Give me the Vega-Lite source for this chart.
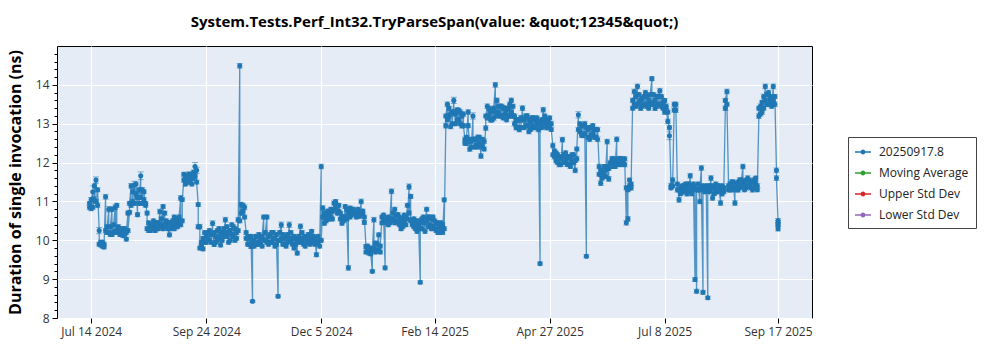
{
"$schema": "https://vega.github.io/schema/vega-lite/v6.json",
"width": 755, "height": 272,
"autosize": {"type": "none"},
"padding": {"left": 57, "top": 46, "right": 188, "bottom": 32},
"background": "white",
"title": {"text": "System.Tests.Perf_Int32.TryParseSpan(value: &quot;12345&quot;)", "fontSize": 15, "fontWeight": "bold", "font": "Open Sans", "color": "#000", "anchor": "middle", "offset": 16},
"datasets": {
"main": [
{"d":"2024-07-13","v":10.85,"e":0.06},{"d":"2024-07-14","v":10.82,"e":0.06},{"d":"2024-07-15","v":11.25,"e":0.15},{"d":"2024-07-16","v":11.05,"e":0.08},{"d":"2024-07-17","v":11.55,"e":0.08},{"d":"2024-07-18","v":10.9,"e":0.06},{"d":"2024-07-19","v":10.25,"e":0.08},{"d":"2024-07-20","v":9.95,"e":0.05},{"d":"2024-07-21","v":9.85,"e":0.05},{"d":"2024-07-22","v":9.9,"e":0.05},{"d":"2024-07-23","v":11.12,"e":0.06},{"d":"2024-07-24","v":10.2,"e":0.05},{"d":"2024-07-25","v":10.8,"e":0.07},{"d":"2024-07-26","v":10.15,"e":0.05},{"d":"2024-07-27","v":10.8,"e":0.06},{"d":"2024-07-28","v":10.22,"e":0.05},{"d":"2024-07-29","v":10.85,"e":0.06},{"d":"2024-07-30","v":10.9,"e":0.05},{"d":"2024-07-31","v":10.2,"e":0.05},
{"d":"2024-08-01","v":10.25,"e":0.05},{"d":"2024-08-02","v":10.15,"e":0.05},{"d":"2024-08-03","v":10.22,"e":0.05},{"d":"2024-08-04","v":10.18,"e":0.05},{"d":"2024-08-05","v":10.03,"e":0.05},{"d":"2024-08-06","v":10.7,"e":0.05},{"d":"2024-08-07","v":10.72,"e":0.05},{"d":"2024-08-08","v":11.4,"e":0.06},{"d":"2024-08-09","v":11.0,"e":0.06},{"d":"2024-08-10","v":11.42,"e":0.1},{"d":"2024-08-11","v":11.2,"e":0.06},{"d":"2024-08-12","v":10.66,"e":0.05},{"d":"2024-08-13","v":11.3,"e":0.06},{"d":"2024-08-14","v":11.66,"e":0.1},{"d":"2024-08-15","v":11.3,"e":0.06},{"d":"2024-08-16","v":11.04,"e":0.06},{"d":"2024-08-17","v":10.9,"e":0.05},{"d":"2024-08-18","v":10.7,"e":0.05},{"d":"2024-08-19","v":10.25,"e":0.05},{"d":"2024-08-20","v":10.35,"e":0.05},{"d":"2024-08-21","v":10.4,"e":0.05},{"d":"2024-08-22","v":10.3,"e":0.05},{"d":"2024-08-23","v":10.42,"e":0.05},{"d":"2024-08-24","v":10.3,"e":0.05},{"d":"2024-08-25","v":10.45,"e":0.05},{"d":"2024-08-26","v":10.74,"e":0.06},{"d":"2024-08-27","v":10.4,"e":0.05},{"d":"2024-08-28","v":10.87,"e":0.05},{"d":"2024-08-29","v":10.7,"e":0.05},{"d":"2024-08-30","v":10.35,"e":0.05},{"d":"2024-08-31","v":10.45,"e":0.05},
{"d":"2024-09-01","v":10.14,"e":0.05},{"d":"2024-09-02","v":10.4,"e":0.05},{"d":"2024-09-03","v":10.5,"e":0.05},{"d":"2024-09-04","v":10.6,"e":0.05},{"d":"2024-09-05","v":10.4,"e":0.05},{"d":"2024-09-06","v":10.5,"e":0.05},{"d":"2024-09-07","v":10.45,"e":0.05},{"d":"2024-09-08","v":11.09,"e":0.06},{"d":"2024-09-09","v":10.5,"e":0.05},{"d":"2024-09-10","v":11.55,"e":0.06},{"d":"2024-09-11","v":11.65,"e":0.06},{"d":"2024-09-12","v":11.5,"e":0.06},{"d":"2024-09-13","v":11.7,"e":0.06},{"d":"2024-09-14","v":11.55,"e":0.06},{"d":"2024-09-15","v":11.6,"e":0.06},{"d":"2024-09-16","v":11.75,"e":0.06},{"d":"2024-09-17","v":11.9,"e":0.1},{"d":"2024-09-18","v":11.8,"e":0.08},{"d":"2024-09-19","v":10.92,"e":0.05},{"d":"2024-09-20","v":10.35,"e":0.06},{"d":"2024-09-21","v":9.85,"e":0.05},{"d":"2024-09-22","v":9.78,"e":0.05},{"d":"2024-09-23","v":9.95,"e":0.05},{"d":"2024-09-24","v":10.1,"e":0.05},{"d":"2024-09-25","v":10.2,"e":0.05},{"d":"2024-09-26","v":10.0,"e":0.05},{"d":"2024-09-27","v":10.15,"e":0.05},{"d":"2024-09-28","v":10.44,"e":0.06},{"d":"2024-09-29","v":9.89,"e":0.05},{"d":"2024-09-30","v":10.1,"e":0.05},
{"d":"2024-10-01","v":10.25,"e":0.05},{"d":"2024-10-02","v":10.05,"e":0.05},{"d":"2024-10-03","v":9.88,"e":0.05},{"d":"2024-10-04","v":10.2,"e":0.05},{"d":"2024-10-05","v":10.3,"e":0.05},{"d":"2024-10-06","v":10.53,"e":0.06},{"d":"2024-10-07","v":10.1,"e":0.05},{"d":"2024-10-08","v":9.95,"e":0.05},{"d":"2024-10-09","v":10.25,"e":0.05},{"d":"2024-10-10","v":10.15,"e":0.05},{"d":"2024-10-11","v":10.35,"e":0.05},{"d":"2024-10-12","v":10.0,"e":0.05},{"d":"2024-10-13","v":10.2,"e":0.05},{"d":"2024-10-14","v":10.53,"e":0.06},{"d":"2024-10-15","v":14.49,"e":0.06},{"d":"2024-10-16","v":10.92,"e":0.06},{"d":"2024-10-17","v":10.75,"e":0.05},{"d":"2024-10-18","v":10.85,"e":0.06},{"d":"2024-10-19","v":10.2,"e":0.05},{"d":"2024-10-20","v":9.9,"e":0.05},{"d":"2024-10-21","v":10.05,"e":0.05},{"d":"2024-10-22","v":9.84,"e":0.05},{"d":"2024-10-23","v":8.43,"e":0.03},{"d":"2024-10-24","v":10.0,"e":0.05},{"d":"2024-10-25","v":9.9,"e":0.05},{"d":"2024-10-26","v":10.1,"e":0.05},{"d":"2024-10-27","v":9.95,"e":0.05},{"d":"2024-10-28","v":10.05,"e":0.05},{"d":"2024-10-29","v":9.85,"e":0.05},{"d":"2024-10-30","v":10.6,"e":0.05},{"d":"2024-10-31","v":10.0,"e":0.05},
{"d":"2024-11-01","v":10.6,"e":0.05},{"d":"2024-11-02","v":10.1,"e":0.05},{"d":"2024-11-03","v":9.95,"e":0.05},{"d":"2024-11-04","v":10.2,"e":0.05},{"d":"2024-11-05","v":10.05,"e":0.05},{"d":"2024-11-06","v":9.85,"e":0.05},{"d":"2024-11-07","v":10.15,"e":0.05},{"d":"2024-11-08","v":8.56,"e":0.04},{"d":"2024-11-09","v":10.0,"e":0.05},{"d":"2024-11-10","v":10.4,"e":0.07},{"d":"2024-11-11","v":9.9,"e":0.05},{"d":"2024-11-12","v":10.05,"e":0.05},{"d":"2024-11-13","v":9.85,"e":0.05},{"d":"2024-11-14","v":10.15,"e":0.05},{"d":"2024-11-15","v":10.4,"e":0.07},{"d":"2024-11-16","v":10.0,"e":0.05},{"d":"2024-11-17","v":9.9,"e":0.05},{"d":"2024-11-18","v":9.8,"e":0.05},{"d":"2024-11-19","v":10.05,"e":0.05},{"d":"2024-11-20","v":9.67,"e":0.05},{"d":"2024-11-21","v":10.1,"e":0.05},{"d":"2024-11-22","v":10.36,"e":0.06},{"d":"2024-11-23","v":9.95,"e":0.05},{"d":"2024-11-24","v":10.05,"e":0.05},{"d":"2024-11-25","v":9.85,"e":0.05},{"d":"2024-11-26","v":10.1,"e":0.05},{"d":"2024-11-27","v":10.0,"e":0.05},{"d":"2024-11-28","v":9.9,"e":0.05},{"d":"2024-11-29","v":10.23,"e":0.05},{"d":"2024-11-30","v":9.95,"e":0.05},
{"d":"2024-12-01","v":9.9,"e":0.05},{"d":"2024-12-02","v":9.63,"e":0.05},{"d":"2024-12-03","v":9.93,"e":0.05},{"d":"2024-12-04","v":10.0,"e":0.05},{"d":"2024-12-05","v":11.9,"e":0.06},{"d":"2024-12-06","v":10.83,"e":0.06},{"d":"2024-12-07","v":10.44,"e":0.05},{"d":"2024-12-08","v":10.65,"e":0.05},{"d":"2024-12-09","v":10.55,"e":0.05},{"d":"2024-12-10","v":10.7,"e":0.05},{"d":"2024-12-11","v":10.6,"e":0.05},{"d":"2024-12-12","v":10.75,"e":0.05},{"d":"2024-12-13","v":10.96,"e":0.05},{"d":"2024-12-14","v":11.0,"e":0.05},{"d":"2024-12-15","v":10.9,"e":0.05},{"d":"2024-12-16","v":10.75,"e":0.05},{"d":"2024-12-17","v":10.55,"e":0.05},{"d":"2024-12-18","v":10.44,"e":0.05},{"d":"2024-12-19","v":10.6,"e":0.05},{"d":"2024-12-20","v":10.87,"e":0.05},{"d":"2024-12-21","v":10.8,"e":0.05},{"d":"2024-12-22","v":9.29,"e":0.06},{"d":"2024-12-23","v":10.83,"e":0.05},{"d":"2024-12-24","v":10.8,"e":0.05},{"d":"2024-12-25","v":10.72,"e":0.05},{"d":"2024-12-26","v":10.68,"e":0.05},{"d":"2024-12-27","v":10.7,"e":0.05},{"d":"2024-12-28","v":10.66,"e":0.05},{"d":"2024-12-29","v":10.7,"e":0.05},{"d":"2024-12-30","v":11.0,"e":0.06},{"d":"2024-12-31","v":10.66,"e":0.05},
{"d":"2025-01-01","v":10.46,"e":0.05},{"d":"2025-01-02","v":9.84,"e":0.05},{"d":"2025-01-03","v":9.72,"e":0.05},{"d":"2025-01-04","v":9.67,"e":0.05},{"d":"2025-01-05","v":9.8,"e":0.05},{"d":"2025-01-06","v":9.2,"e":0.04},{"d":"2025-01-07","v":10.53,"e":0.06},{"d":"2025-01-08","v":9.93,"e":0.05},{"d":"2025-01-09","v":9.75,"e":0.05},{"d":"2025-01-10","v":10.14,"e":0.05},{"d":"2025-01-11","v":9.7,"e":0.05},{"d":"2025-01-12","v":10.6,"e":0.05},{"d":"2025-01-13","v":10.5,"e":0.05},{"d":"2025-01-14","v":9.29,"e":0.05},{"d":"2025-01-15","v":10.57,"e":0.05},{"d":"2025-01-16","v":10.4,"e":0.05},{"d":"2025-01-17","v":10.45,"e":0.05},{"d":"2025-01-18","v":11.26,"e":0.06},{"d":"2025-01-19","v":10.55,"e":0.05},{"d":"2025-01-20","v":10.8,"e":0.05},{"d":"2025-01-21","v":10.5,"e":0.05},{"d":"2025-01-22","v":10.66,"e":0.05},{"d":"2025-01-23","v":10.4,"e":0.05},{"d":"2025-01-24","v":10.3,"e":0.05},{"d":"2025-01-25","v":10.55,"e":0.05},{"d":"2025-01-26","v":10.45,"e":0.05},{"d":"2025-01-27","v":10.6,"e":0.05},{"d":"2025-01-28","v":10.9,"e":0.05},{"d":"2025-01-29","v":11.38,"e":0.07},{"d":"2025-01-30","v":11.13,"e":0.05},{"d":"2025-01-31","v":10.53,"e":0.05},
{"d":"2025-02-01","v":10.35,"e":0.05},{"d":"2025-02-02","v":10.45,"e":0.05},{"d":"2025-02-03","v":10.23,"e":0.05},{"d":"2025-02-04","v":10.4,"e":0.05},{"d":"2025-02-05","v":8.92,"e":0.04},{"d":"2025-02-06","v":10.55,"e":0.05},{"d":"2025-02-07","v":10.45,"e":0.05},{"d":"2025-02-08","v":10.23,"e":0.05},{"d":"2025-02-09","v":10.8,"e":0.05},{"d":"2025-02-10","v":10.6,"e":0.05},{"d":"2025-02-11","v":10.4,"e":0.05},{"d":"2025-02-12","v":10.55,"e":0.05},{"d":"2025-02-13","v":10.36,"e":0.05},{"d":"2025-02-14","v":10.5,"e":0.05},{"d":"2025-02-15","v":10.44,"e":0.05},{"d":"2025-02-16","v":10.2,"e":0.05},{"d":"2025-02-17","v":10.35,"e":0.05},{"d":"2025-02-18","v":10.25,"e":0.05},{"d":"2025-02-19","v":10.4,"e":0.05},{"d":"2025-02-20","v":11.04,"e":0.05},{"d":"2025-02-21","v":12.95,"e":0.06},{"d":"2025-02-22","v":13.5,"e":0.06},{"d":"2025-02-23","v":13.2,"e":0.06},{"d":"2025-02-24","v":12.93,"e":0.06},{"d":"2025-02-25","v":13.3,"e":0.06},{"d":"2025-02-26","v":13.6,"e":0.08},{"d":"2025-02-27","v":13.25,"e":0.06},{"d":"2025-02-28","v":13.35,"e":0.06},
{"d":"2025-03-01","v":13.1,"e":0.06},{"d":"2025-03-02","v":13.3,"e":0.06},{"d":"2025-03-03","v":12.95,"e":0.06},{"d":"2025-03-04","v":13.25,"e":0.06},{"d":"2025-03-05","v":12.6,"e":0.06},{"d":"2025-03-06","v":12.5,"e":0.06},{"d":"2025-03-07","v":13.3,"e":0.06},{"d":"2025-03-08","v":12.35,"e":0.06},{"d":"2025-03-09","v":12.55,"e":0.06},{"d":"2025-03-10","v":13.2,"e":0.08},{"d":"2025-03-11","v":12.6,"e":0.06},{"d":"2025-03-12","v":12.45,"e":0.06},{"d":"2025-03-13","v":12.65,"e":0.06},{"d":"2025-03-14","v":12.5,"e":0.06},{"d":"2025-03-15","v":12.17,"e":0.06},{"d":"2025-03-16","v":12.4,"e":0.06},{"d":"2025-03-17","v":12.55,"e":0.06},{"d":"2025-03-18","v":12.89,"e":0.06},{"d":"2025-03-19","v":13.45,"e":0.06},{"d":"2025-03-20","v":13.2,"e":0.06},{"d":"2025-03-21","v":13.1,"e":0.06},{"d":"2025-03-22","v":13.35,"e":0.06},{"d":"2025-03-23","v":13.15,"e":0.06},{"d":"2025-03-24","v":14.0,"e":0.06},{"d":"2025-03-25","v":13.6,"e":0.06},{"d":"2025-03-26","v":13.3,"e":0.06},{"d":"2025-03-27","v":13.45,"e":0.06},{"d":"2025-03-28","v":13.2,"e":0.06},{"d":"2025-03-29","v":13.4,"e":0.06},{"d":"2025-03-30","v":13.25,"e":0.06},{"d":"2025-03-31","v":13.35,"e":0.06},
{"d":"2025-04-01","v":13.2,"e":0.06},{"d":"2025-04-02","v":13.5,"e":0.06},{"d":"2025-04-03","v":13.6,"e":0.06},{"d":"2025-04-04","v":13.2,"e":0.06},{"d":"2025-04-05","v":13.0,"e":0.06},{"d":"2025-04-06","v":12.9,"e":0.06},{"d":"2025-04-07","v":13.1,"e":0.06},{"d":"2025-04-08","v":12.85,"e":0.06},{"d":"2025-04-09","v":13.15,"e":0.06},{"d":"2025-04-10","v":13.4,"e":0.06},{"d":"2025-04-11","v":13.1,"e":0.06},{"d":"2025-04-12","v":12.95,"e":0.06},{"d":"2025-04-13","v":13.2,"e":0.06},{"d":"2025-04-14","v":12.8,"e":0.06},{"d":"2025-04-15","v":13.05,"e":0.06},{"d":"2025-04-16","v":13.15,"e":0.06},{"d":"2025-04-17","v":12.9,"e":0.06},{"d":"2025-04-18","v":13.1,"e":0.06},{"d":"2025-04-19","v":13.0,"e":0.06},{"d":"2025-04-20","v":12.85,"e":0.06},{"d":"2025-04-21","v":9.4,"e":0.04},{"d":"2025-04-22","v":13.1,"e":0.06},{"d":"2025-04-23","v":13.36,"e":0.06},{"d":"2025-04-24","v":13.0,"e":0.06},{"d":"2025-04-25","v":12.9,"e":0.06},{"d":"2025-04-26","v":13.05,"e":0.06},{"d":"2025-04-27","v":12.95,"e":0.06},{"d":"2025-04-28","v":13.0,"e":0.06},{"d":"2025-04-29","v":12.44,"e":0.06},{"d":"2025-04-30","v":12.15,"e":0.06},
{"d":"2025-05-01","v":12.05,"e":0.06},{"d":"2025-05-02","v":12.2,"e":0.06},{"d":"2025-05-03","v":11.95,"e":0.06},{"d":"2025-05-04","v":12.1,"e":0.06},{"d":"2025-05-05","v":12.59,"e":0.06},{"d":"2025-05-06","v":12.2,"e":0.06},{"d":"2025-05-07","v":12.05,"e":0.06},{"d":"2025-05-08","v":12.15,"e":0.06},{"d":"2025-05-09","v":11.95,"e":0.06},{"d":"2025-05-10","v":12.1,"e":0.06},{"d":"2025-05-11","v":12.0,"e":0.06},{"d":"2025-05-12","v":12.2,"e":0.06},{"d":"2025-05-13","v":11.8,"e":0.06},{"d":"2025-05-14","v":12.1,"e":0.06},{"d":"2025-05-15","v":13.23,"e":0.08},{"d":"2025-05-16","v":12.8,"e":0.06},{"d":"2025-05-17","v":12.95,"e":0.06},{"d":"2025-05-18","v":12.7,"e":0.06},{"d":"2025-05-19","v":13.0,"e":0.06},{"d":"2025-05-20","v":9.59,"e":0.04},{"d":"2025-05-21","v":12.85,"e":0.06},{"d":"2025-05-22","v":12.6,"e":0.06},{"d":"2025-05-23","v":12.9,"e":0.06},{"d":"2025-05-24","v":12.75,"e":0.06},{"d":"2025-05-25","v":12.65,"e":0.06},{"d":"2025-05-26","v":12.85,"e":0.06},{"d":"2025-05-27","v":12.6,"e":0.06},{"d":"2025-05-28","v":11.9,"e":0.06},{"d":"2025-05-29","v":11.47,"e":0.06},{"d":"2025-05-30","v":11.75,"e":0.06},{"d":"2025-05-31","v":11.65,"e":0.06},
{"d":"2025-06-01","v":11.8,"e":0.06},{"d":"2025-06-02","v":12.54,"e":0.06},{"d":"2025-06-03","v":11.58,"e":0.06},{"d":"2025-06-04","v":12.0,"e":0.06},{"d":"2025-06-05","v":12.1,"e":0.06},{"d":"2025-06-06","v":11.95,"e":0.06},{"d":"2025-06-07","v":12.05,"e":0.06},{"d":"2025-06-08","v":12.6,"e":0.06},{"d":"2025-06-09","v":11.95,"e":0.06},{"d":"2025-06-10","v":12.1,"e":0.06},{"d":"2025-06-11","v":12.0,"e":0.06},{"d":"2025-06-12","v":12.05,"e":0.06},{"d":"2025-06-13","v":11.95,"e":0.06},{"d":"2025-06-14","v":10.45,"e":0.06},{"d":"2025-06-15","v":10.55,"e":0.06},{"d":"2025-06-16","v":11.4,"e":0.06},{"d":"2025-06-17","v":11.35,"e":0.06},{"d":"2025-06-18","v":13.6,"e":0.06},{"d":"2025-06-19","v":13.83,"e":0.06},{"d":"2025-06-20","v":13.45,"e":0.06},{"d":"2025-06-21","v":13.96,"e":0.06},{"d":"2025-06-22","v":13.55,"e":0.06},{"d":"2025-06-23","v":13.4,"e":0.06},{"d":"2025-06-24","v":13.65,"e":0.06},{"d":"2025-06-25","v":13.5,"e":0.06},{"d":"2025-06-26","v":13.8,"e":0.06},{"d":"2025-06-27","v":13.45,"e":0.06},{"d":"2025-06-28","v":13.6,"e":0.06},{"d":"2025-06-29","v":13.5,"e":0.06},{"d":"2025-06-30","v":14.16,"e":0.05},
{"d":"2025-07-01","v":13.55,"e":0.06},{"d":"2025-07-02","v":13.4,"e":0.06},{"d":"2025-07-03","v":13.7,"e":0.06},{"d":"2025-07-04","v":13.5,"e":0.06},{"d":"2025-07-05","v":13.85,"e":0.06},{"d":"2025-07-06","v":13.45,"e":0.06},{"d":"2025-07-07","v":13.55,"e":0.06},{"d":"2025-07-08","v":13.3,"e":0.06},{"d":"2025-07-09","v":13.45,"e":0.06},{"d":"2025-07-10","v":13.06,"e":0.06},{"d":"2025-07-11","v":12.69,"e":0.1},{"d":"2025-07-12","v":11.4,"e":0.06},{"d":"2025-07-13","v":11.55,"e":0.06},{"d":"2025-07-14","v":13.5,"e":0.06},{"d":"2025-07-15","v":13.35,"e":0.06},{"d":"2025-07-16","v":11.3,"e":0.06},{"d":"2025-07-17","v":11.04,"e":0.06},{"d":"2025-07-18","v":11.35,"e":0.06},{"d":"2025-07-19","v":11.25,"e":0.06},{"d":"2025-07-20","v":11.4,"e":0.06},{"d":"2025-07-21","v":11.3,"e":0.06},{"d":"2025-07-22","v":11.2,"e":0.06},{"d":"2025-07-23","v":11.45,"e":0.06},{"d":"2025-07-24","v":11.66,"e":0.06},{"d":"2025-07-25","v":11.3,"e":0.06},{"d":"2025-07-26","v":11.35,"e":0.06},{"d":"2025-07-27","v":8.99,"e":0.05},{"d":"2025-07-28","v":8.69,"e":0.05},{"d":"2025-07-29","v":11.3,"e":0.06},{"d":"2025-07-30","v":11.0,"e":0.06},{"d":"2025-07-31","v":11.86,"e":0.06},
{"d":"2025-08-01","v":8.66,"e":0.05},{"d":"2025-08-02","v":11.35,"e":0.06},{"d":"2025-08-03","v":11.3,"e":0.06},{"d":"2025-08-04","v":8.52,"e":0.04},{"d":"2025-08-05","v":11.4,"e":0.06},{"d":"2025-08-06","v":11.6,"e":0.06},{"d":"2025-08-07","v":11.09,"e":0.06},{"d":"2025-08-08","v":11.35,"e":0.06},{"d":"2025-08-09","v":11.25,"e":0.06},{"d":"2025-08-10","v":11.4,"e":0.06},{"d":"2025-08-11","v":11.3,"e":0.06},{"d":"2025-08-12","v":10.96,"e":0.06},{"d":"2025-08-13","v":11.2,"e":0.06},{"d":"2025-08-14","v":11.35,"e":0.06},{"d":"2025-08-15","v":13.4,"e":0.06},{"d":"2025-08-16","v":13.83,"e":0.06},{"d":"2025-08-17","v":11.4,"e":0.06},{"d":"2025-08-18","v":11.3,"e":0.06},{"d":"2025-08-19","v":11.5,"e":0.06},{"d":"2025-08-20","v":11.35,"e":0.06},{"d":"2025-08-21","v":10.96,"e":0.06},{"d":"2025-08-22","v":11.45,"e":0.06},{"d":"2025-08-23","v":11.3,"e":0.06},{"d":"2025-08-24","v":11.55,"e":0.06},{"d":"2025-08-25","v":11.4,"e":0.06},{"d":"2025-08-26","v":11.9,"e":0.06},{"d":"2025-08-27","v":11.5,"e":0.06},{"d":"2025-08-28","v":11.35,"e":0.06},{"d":"2025-08-29","v":11.6,"e":0.06},{"d":"2025-08-30","v":11.4,"e":0.06},{"d":"2025-08-31","v":11.5,"e":0.06},
{"d":"2025-09-01","v":11.3,"e":0.06},{"d":"2025-09-02","v":11.55,"e":0.06},{"d":"2025-09-03","v":11.45,"e":0.06},{"d":"2025-09-04","v":11.4,"e":0.06},{"d":"2025-09-05","v":13.2,"e":0.06},{"d":"2025-09-06","v":13.45,"e":0.06},{"d":"2025-09-07","v":13.3,"e":0.06},{"d":"2025-09-08","v":13.7,"e":0.06},{"d":"2025-09-09","v":13.96,"e":0.06},{"d":"2025-09-10","v":13.5,"e":0.06},{"d":"2025-09-11","v":13.8,"e":0.06},{"d":"2025-09-12","v":13.6,"e":0.06},{"d":"2025-09-13","v":13.55,"e":0.06},{"d":"2025-09-14","v":13.96,"e":0.06},{"d":"2025-09-15","v":13.5,"e":0.06},{"d":"2025-09-16","v":11.8,"e":0.06},{"d":"2025-09-16","v":11.6,"e":0.06},{"d":"2025-09-17","v":10.5,"e":0.06},{"d":"2025-09-17","v":10.3,"e":0.06},{"d":"2025-09-17","v":10.45,"e":0.06},
{"d":"2024-07-13","v":10.95,"e":0.05},{"d":"2024-07-14","v":11.05,"e":0.05},{"d":"2024-07-15","v":10.85,"e":0.05},{"d":"2024-07-16","v":11.4,"e":0.05},{"d":"2024-07-17","v":11.0,"e":0.05},{"d":"2024-07-18","v":11.3,"e":0.05},{"d":"2024-07-19","v":9.9,"e":0.05},{"d":"2024-07-20","v":9.88,"e":0.05},{"d":"2024-07-21","v":9.95,"e":0.05},{"d":"2024-07-22","v":9.83,"e":0.05},{"d":"2024-07-23","v":10.25,"e":0.05},{"d":"2024-07-24","v":10.35,"e":0.05},{"d":"2024-07-25","v":10.2,"e":0.05},{"d":"2024-07-26","v":10.35,"e":0.05},{"d":"2024-07-27","v":10.15,"e":0.05},{"d":"2024-07-28","v":10.4,"e":0.05},{"d":"2024-07-29","v":10.2,"e":0.05},{"d":"2024-07-30","v":10.25,"e":0.05},{"d":"2024-07-31","v":10.35,"e":0.05},
{"d":"2024-08-01","v":10.15,"e":0.05},{"d":"2024-08-02","v":10.3,"e":0.05},{"d":"2024-08-03","v":10.12,"e":0.05},{"d":"2024-08-04","v":10.3,"e":0.05},{"d":"2024-08-05","v":10.2,"e":0.05},{"d":"2024-08-06","v":10.25,"e":0.05},{"d":"2024-08-07","v":10.95,"e":0.05},{"d":"2024-08-08","v":10.9,"e":0.05},{"d":"2024-08-09","v":11.25,"e":0.05},{"d":"2024-08-10","v":10.95,"e":0.05},{"d":"2024-08-11","v":11.45,"e":0.05},{"d":"2024-08-12","v":11.1,"e":0.05},{"d":"2024-08-13","v":10.95,"e":0.05},{"d":"2024-08-14","v":11.1,"e":0.05},{"d":"2024-08-15","v":10.95,"e":0.05},{"d":"2024-08-16","v":11.25,"e":0.05},{"d":"2024-08-17","v":10.95,"e":0.05},{"d":"2024-08-18","v":10.3,"e":0.05},{"d":"2024-08-19","v":10.45,"e":0.05},{"d":"2024-08-20","v":10.25,"e":0.05},{"d":"2024-08-21","v":10.3,"e":0.05},{"d":"2024-08-22","v":10.5,"e":0.05},{"d":"2024-08-23","v":10.25,"e":0.05},{"d":"2024-08-24","v":10.45,"e":0.05},{"d":"2024-08-25","v":10.3,"e":0.05},{"d":"2024-08-26","v":10.35,"e":0.05},{"d":"2024-08-27","v":10.55,"e":0.05},{"d":"2024-08-28","v":10.3,"e":0.05},{"d":"2024-08-29","v":10.4,"e":0.05},{"d":"2024-08-30","v":10.5,"e":0.05},{"d":"2024-08-31","v":10.3,"e":0.05},
{"d":"2024-09-01","v":10.45,"e":0.05},{"d":"2024-09-02","v":10.3,"e":0.05},{"d":"2024-09-03","v":10.35,"e":0.05},{"d":"2024-09-04","v":10.3,"e":0.05},{"d":"2024-09-05","v":10.55,"e":0.05},{"d":"2024-09-06","v":10.35,"e":0.05},{"d":"2024-09-07","v":10.6,"e":0.05},{"d":"2024-09-08","v":10.4,"e":0.05},{"d":"2024-09-09","v":11.05,"e":0.05},{"d":"2024-09-10","v":11.7,"e":0.05},{"d":"2024-09-11","v":11.45,"e":0.05},{"d":"2024-09-12","v":11.65,"e":0.05},{"d":"2024-09-13","v":11.5,"e":0.05},{"d":"2024-09-14","v":11.7,"e":0.05},{"d":"2024-09-15","v":11.45,"e":0.05},{"d":"2024-09-16","v":11.6,"e":0.05},{"d":"2024-09-17","v":11.65,"e":0.05},{"d":"2024-09-18","v":11.5,"e":0.05},{"d":"2024-09-19","v":10.35,"e":0.05},{"d":"2024-09-20","v":9.8,"e":0.05},{"d":"2024-09-21","v":9.95,"e":0.05},{"d":"2024-09-22","v":10.05,"e":0.05},{"d":"2024-09-23","v":10.2,"e":0.05},{"d":"2024-09-24","v":9.95,"e":0.05},{"d":"2024-09-25","v":10.05,"e":0.05},{"d":"2024-09-26","v":10.25,"e":0.05},{"d":"2024-09-27","v":9.95,"e":0.05},{"d":"2024-09-28","v":10.15,"e":0.05},{"d":"2024-09-29","v":10.2,"e":0.05},{"d":"2024-09-30","v":9.95,"e":0.05},
{"d":"2024-10-01","v":10.0,"e":0.05},{"d":"2024-10-02","v":10.3,"e":0.05},{"d":"2024-10-03","v":10.15,"e":0.05},{"d":"2024-10-04","v":10.0,"e":0.05},{"d":"2024-10-05","v":10.1,"e":0.05},{"d":"2024-10-06","v":10.2,"e":0.05},{"d":"2024-10-07","v":10.35,"e":0.05},{"d":"2024-10-08","v":10.2,"e":0.05},{"d":"2024-10-09","v":10.0,"e":0.05},{"d":"2024-10-10","v":10.4,"e":0.05},{"d":"2024-10-11","v":10.1,"e":0.05},{"d":"2024-10-12","v":10.3,"e":0.05},{"d":"2024-10-13","v":10.05,"e":0.05},{"d":"2024-10-14","v":10.25,"e":0.05},{"d":"2024-10-15","v":10.5,"e":0.05},{"d":"2024-10-16","v":10.7,"e":0.05},{"d":"2024-10-17","v":10.9,"e":0.05},{"d":"2024-10-18","v":10.6,"e":0.05},{"d":"2024-10-19","v":10.05,"e":0.05},{"d":"2024-10-20","v":10.1,"e":0.05},{"d":"2024-10-21","v":9.9,"e":0.05},{"d":"2024-10-22","v":10.1,"e":0.05},{"d":"2024-10-23","v":9.95,"e":0.05},{"d":"2024-10-24","v":9.85,"e":0.05},{"d":"2024-10-25","v":10.1,"e":0.05},{"d":"2024-10-26","v":9.9,"e":0.05},{"d":"2024-10-27","v":10.15,"e":0.05},{"d":"2024-10-28","v":9.9,"e":0.05},{"d":"2024-10-29","v":10.1,"e":0.05},{"d":"2024-10-30","v":10.0,"e":0.05},{"d":"2024-10-31","v":10.2,"e":0.05},
{"d":"2024-11-01","v":9.95,"e":0.05},{"d":"2024-11-02","v":9.9,"e":0.05},{"d":"2024-11-03","v":10.15,"e":0.05},{"d":"2024-11-04","v":9.95,"e":0.05},{"d":"2024-11-05","v":10.2,"e":0.05},{"d":"2024-11-06","v":10.05,"e":0.05},{"d":"2024-11-07","v":9.9,"e":0.05},{"d":"2024-11-08","v":10.0,"e":0.05},{"d":"2024-11-09","v":10.2,"e":0.05},{"d":"2024-11-10","v":10.05,"e":0.05},{"d":"2024-11-11","v":10.15,"e":0.05},{"d":"2024-11-12","v":9.9,"e":0.05},{"d":"2024-11-13","v":10.1,"e":0.05},{"d":"2024-11-14","v":9.95,"e":0.05},{"d":"2024-11-15","v":10.05,"e":0.05},{"d":"2024-11-16","v":10.2,"e":0.05},{"d":"2024-11-17","v":10.05,"e":0.05},{"d":"2024-11-18","v":10.1,"e":0.05},{"d":"2024-11-19","v":9.9,"e":0.05},{"d":"2024-11-20","v":10.0,"e":0.05},{"d":"2024-11-21","v":9.95,"e":0.05},{"d":"2024-11-22","v":10.05,"e":0.05},{"d":"2024-11-23","v":10.2,"e":0.05},{"d":"2024-11-24","v":9.9,"e":0.05},{"d":"2024-11-25","v":10.1,"e":0.05},{"d":"2024-11-26","v":9.95,"e":0.05},{"d":"2024-11-27","v":10.15,"e":0.05},{"d":"2024-11-28","v":10.05,"e":0.05},{"d":"2024-11-29","v":10.0,"e":0.05},{"d":"2024-11-30","v":10.1,"e":0.05},
{"d":"2024-12-01","v":10.05,"e":0.05},{"d":"2024-12-02","v":9.95,"e":0.05},{"d":"2024-12-03","v":10.1,"e":0.05},{"d":"2024-12-04","v":9.85,"e":0.05},{"d":"2024-12-05","v":10.0,"e":0.05},{"d":"2024-12-06","v":10.6,"e":0.05},{"d":"2024-12-07","v":10.7,"e":0.05},{"d":"2024-12-08","v":10.5,"e":0.05},{"d":"2024-12-09","v":10.75,"e":0.05},{"d":"2024-12-10","v":10.55,"e":0.05},{"d":"2024-12-11","v":10.8,"e":0.05},{"d":"2024-12-12","v":10.55,"e":0.05},{"d":"2024-12-13","v":10.8,"e":0.05},{"d":"2024-12-14","v":10.85,"e":0.05},{"d":"2024-12-15","v":10.7,"e":0.05},{"d":"2024-12-16","v":10.9,"e":0.05},{"d":"2024-12-17","v":10.7,"e":0.05},{"d":"2024-12-18","v":10.6,"e":0.05},{"d":"2024-12-19","v":10.5,"e":0.05},{"d":"2024-12-20","v":10.6,"e":0.05},{"d":"2024-12-21","v":10.55,"e":0.05},{"d":"2024-12-22","v":10.7,"e":0.05},{"d":"2024-12-23","v":10.6,"e":0.05},{"d":"2024-12-24","v":10.65,"e":0.05},{"d":"2024-12-25","v":10.8,"e":0.05},{"d":"2024-12-26","v":10.75,"e":0.05},{"d":"2024-12-27","v":10.6,"e":0.05},{"d":"2024-12-28","v":10.8,"e":0.05},{"d":"2024-12-29","v":10.62,"e":0.05},{"d":"2024-12-30","v":10.7,"e":0.05},{"d":"2024-12-31","v":10.75,"e":0.05},
{"d":"2025-01-01","v":10.6,"e":0.05},{"d":"2025-01-02","v":9.7,"e":0.05},{"d":"2025-01-03","v":9.85,"e":0.05},{"d":"2025-01-04","v":9.78,"e":0.05},{"d":"2025-01-05","v":9.65,"e":0.05},{"d":"2025-01-06","v":9.75,"e":0.05},{"d":"2025-01-07","v":9.8,"e":0.05},{"d":"2025-01-08","v":9.7,"e":0.05},{"d":"2025-01-09","v":9.9,"e":0.05},{"d":"2025-01-10","v":9.75,"e":0.05},{"d":"2025-01-11","v":9.85,"e":0.05},{"d":"2025-01-12","v":10.45,"e":0.05},{"d":"2025-01-13","v":10.65,"e":0.05},{"d":"2025-01-14","v":10.5,"e":0.05},{"d":"2025-01-15","v":10.45,"e":0.05},{"d":"2025-01-16","v":10.6,"e":0.05},{"d":"2025-01-17","v":10.55,"e":0.05},{"d":"2025-01-18","v":10.5,"e":0.05},{"d":"2025-01-19","v":10.7,"e":0.05},{"d":"2025-01-20","v":10.45,"e":0.05},{"d":"2025-01-21","v":10.65,"e":0.05},{"d":"2025-01-22","v":10.45,"e":0.05},{"d":"2025-01-23","v":10.6,"e":0.05},{"d":"2025-01-24","v":10.5,"e":0.05},{"d":"2025-01-25","v":10.35,"e":0.05},{"d":"2025-01-26","v":10.65,"e":0.05},{"d":"2025-01-27","v":10.4,"e":0.05},{"d":"2025-01-28","v":10.55,"e":0.05},{"d":"2025-01-29","v":10.7,"e":0.05},{"d":"2025-01-30","v":10.5,"e":0.05},{"d":"2025-01-31","v":10.4,"e":0.05},
{"d":"2025-02-01","v":10.55,"e":0.05},{"d":"2025-02-02","v":10.3,"e":0.05},{"d":"2025-02-03","v":10.5,"e":0.05},{"d":"2025-02-04","v":10.3,"e":0.05},{"d":"2025-02-05","v":10.5,"e":0.05},{"d":"2025-02-06","v":10.3,"e":0.05},{"d":"2025-02-07","v":10.6,"e":0.05},{"d":"2025-02-08","v":10.45,"e":0.05},{"d":"2025-02-09","v":10.5,"e":0.05},{"d":"2025-02-10","v":10.35,"e":0.05},{"d":"2025-02-11","v":10.6,"e":0.05},{"d":"2025-02-12","v":10.3,"e":0.05},{"d":"2025-02-13","v":10.6,"e":0.05},{"d":"2025-02-14","v":10.3,"e":0.05},{"d":"2025-02-15","v":10.25,"e":0.05},{"d":"2025-02-16","v":10.45,"e":0.05},{"d":"2025-02-17","v":10.2,"e":0.05},{"d":"2025-02-18","v":10.45,"e":0.05},{"d":"2025-02-19","v":10.2,"e":0.05},{"d":"2025-02-20","v":10.3,"e":0.05},{"d":"2025-02-21","v":13.2,"e":0.05},{"d":"2025-02-22","v":13.1,"e":0.05},{"d":"2025-02-23","v":13.4,"e":0.05},{"d":"2025-02-24","v":13.25,"e":0.05},{"d":"2025-02-25","v":13.0,"e":0.05},{"d":"2025-02-26","v":13.3,"e":0.05},{"d":"2025-02-27","v":13.0,"e":0.05},{"d":"2025-02-28","v":13.1,"e":0.05},
{"d":"2025-03-01","v":13.35,"e":0.05},{"d":"2025-03-02","v":13.0,"e":0.05},{"d":"2025-03-03","v":13.2,"e":0.05},{"d":"2025-03-04","v":12.95,"e":0.05},{"d":"2025-03-05","v":12.5,"e":0.05},{"d":"2025-03-06","v":12.65,"e":0.05},{"d":"2025-03-07","v":12.95,"e":0.05},{"d":"2025-03-08","v":12.6,"e":0.05},{"d":"2025-03-09","v":12.4,"e":0.05},{"d":"2025-03-10","v":12.6,"e":0.05},{"d":"2025-03-11","v":12.4,"e":0.05},{"d":"2025-03-12","v":12.6,"e":0.05},{"d":"2025-03-13","v":12.4,"e":0.05},{"d":"2025-03-14","v":12.65,"e":0.05},{"d":"2025-03-15","v":12.45,"e":0.05},{"d":"2025-03-16","v":12.6,"e":0.05},{"d":"2025-03-17","v":12.35,"e":0.05},{"d":"2025-03-18","v":13.2,"e":0.05},{"d":"2025-03-19","v":13.15,"e":0.05},{"d":"2025-03-20","v":13.4,"e":0.05},{"d":"2025-03-21","v":13.3,"e":0.05},{"d":"2025-03-22","v":13.1,"e":0.05},{"d":"2025-03-23","v":13.4,"e":0.05},{"d":"2025-03-24","v":13.3,"e":0.05},{"d":"2025-03-25","v":13.2,"e":0.05},{"d":"2025-03-26","v":13.45,"e":0.05},{"d":"2025-03-27","v":13.2,"e":0.05},{"d":"2025-03-28","v":13.45,"e":0.05},{"d":"2025-03-29","v":13.15,"e":0.05},{"d":"2025-03-30","v":13.4,"e":0.05},{"d":"2025-03-31","v":13.1,"e":0.05},
{"d":"2025-04-01","v":13.4,"e":0.05},{"d":"2025-04-02","v":13.2,"e":0.05},{"d":"2025-04-03","v":13.3,"e":0.05},{"d":"2025-04-04","v":13.45,"e":0.05},{"d":"2025-04-05","v":13.2,"e":0.05},{"d":"2025-04-06","v":13.1,"e":0.05},{"d":"2025-04-07","v":12.9,"e":0.05},{"d":"2025-04-08","v":13.1,"e":0.05},{"d":"2025-04-09","v":12.9,"e":0.05},{"d":"2025-04-10","v":13.1,"e":0.05},{"d":"2025-04-11","v":12.9,"e":0.05},{"d":"2025-04-12","v":13.2,"e":0.05},{"d":"2025-04-13","v":12.95,"e":0.05},{"d":"2025-04-14","v":13.1,"e":0.05},{"d":"2025-04-15","v":12.85,"e":0.05},{"d":"2025-04-16","v":12.95,"e":0.05},{"d":"2025-04-17","v":13.15,"e":0.05},{"d":"2025-04-18","v":12.9,"e":0.05},{"d":"2025-04-19","v":13.15,"e":0.05},{"d":"2025-04-20","v":13.05,"e":0.05},{"d":"2025-04-21","v":13.0,"e":0.05},{"d":"2025-04-22","v":12.9,"e":0.05},{"d":"2025-04-23","v":13.05,"e":0.05},{"d":"2025-04-24","v":13.2,"e":0.05},{"d":"2025-04-25","v":13.1,"e":0.05},{"d":"2025-04-26","v":12.9,"e":0.05},{"d":"2025-04-27","v":13.15,"e":0.05},{"d":"2025-04-28","v":12.85,"e":0.05},{"d":"2025-04-29","v":12.2,"e":0.05},{"d":"2025-04-30","v":12.3,"e":0.05},
{"d":"2025-05-01","v":12.25,"e":0.05},{"d":"2025-05-02","v":12.0,"e":0.05},{"d":"2025-05-03","v":12.15,"e":0.05},{"d":"2025-05-04","v":11.95,"e":0.05},{"d":"2025-05-05","v":12.15,"e":0.05},{"d":"2025-05-06","v":12.0,"e":0.05},{"d":"2025-05-07","v":12.25,"e":0.05},{"d":"2025-05-08","v":11.95,"e":0.05},{"d":"2025-05-09","v":12.15,"e":0.05},{"d":"2025-05-10","v":11.9,"e":0.05},{"d":"2025-05-11","v":12.2,"e":0.05},{"d":"2025-05-12","v":12.0,"e":0.05},{"d":"2025-05-13","v":12.05,"e":0.05},{"d":"2025-05-14","v":12.35,"e":0.05},{"d":"2025-05-15","v":12.85,"e":0.05},{"d":"2025-05-16","v":13.0,"e":0.05},{"d":"2025-05-17","v":12.7,"e":0.05},{"d":"2025-05-18","v":12.95,"e":0.05},{"d":"2025-05-19","v":12.75,"e":0.05},{"d":"2025-05-20","v":12.9,"e":0.05},{"d":"2025-05-21","v":12.65,"e":0.05},{"d":"2025-05-22","v":12.9,"e":0.05},{"d":"2025-05-23","v":12.7,"e":0.05},{"d":"2025-05-24","v":12.95,"e":0.05},{"d":"2025-05-25","v":12.85,"e":0.05},{"d":"2025-05-26","v":12.65,"e":0.05},{"d":"2025-05-27","v":12.85,"e":0.05},{"d":"2025-05-28","v":11.7,"e":0.05},{"d":"2025-05-29","v":11.8,"e":0.05},{"d":"2025-05-30","v":11.6,"e":0.05},{"d":"2025-05-31","v":11.9,"e":0.05},
{"d":"2025-06-01","v":11.65,"e":0.05},{"d":"2025-06-02","v":11.9,"e":0.05},{"d":"2025-06-03","v":11.85,"e":0.05},{"d":"2025-06-04","v":11.95,"e":0.05},{"d":"2025-06-05","v":11.9,"e":0.05},{"d":"2025-06-06","v":12.1,"e":0.05},{"d":"2025-06-07","v":11.9,"e":0.05},{"d":"2025-06-08","v":12.0,"e":0.05},{"d":"2025-06-09","v":12.1,"e":0.05},{"d":"2025-06-10","v":11.95,"e":0.05},{"d":"2025-06-11","v":12.1,"e":0.05},{"d":"2025-06-12","v":11.95,"e":0.05},{"d":"2025-06-13","v":12.1,"e":0.05},{"d":"2025-06-14","v":11.35,"e":0.05},{"d":"2025-06-15","v":11.3,"e":0.05},{"d":"2025-06-16","v":11.55,"e":0.05},{"d":"2025-06-17","v":11.45,"e":0.05},{"d":"2025-06-18","v":13.4,"e":0.05},{"d":"2025-06-19","v":13.5,"e":0.05},{"d":"2025-06-20","v":13.7,"e":0.05},{"d":"2025-06-21","v":13.5,"e":0.05},{"d":"2025-06-22","v":13.75,"e":0.05},{"d":"2025-06-23","v":13.6,"e":0.05},{"d":"2025-06-24","v":13.45,"e":0.05},{"d":"2025-06-25","v":13.7,"e":0.05},{"d":"2025-06-26","v":13.5,"e":0.05},{"d":"2025-06-27","v":13.7,"e":0.05},{"d":"2025-06-28","v":13.4,"e":0.05},{"d":"2025-06-29","v":13.75,"e":0.05},{"d":"2025-06-30","v":13.5,"e":0.05},
{"d":"2025-07-01","v":13.75,"e":0.05},{"d":"2025-07-02","v":13.6,"e":0.05},{"d":"2025-07-03","v":13.45,"e":0.05},{"d":"2025-07-04","v":13.7,"e":0.05},{"d":"2025-07-05","v":13.5,"e":0.05},{"d":"2025-07-06","v":13.7,"e":0.05},{"d":"2025-07-07","v":13.4,"e":0.05},{"d":"2025-07-08","v":13.6,"e":0.05},{"d":"2025-07-09","v":13.35,"e":0.05},{"d":"2025-07-10","v":13.3,"e":0.05},{"d":"2025-07-11","v":12.9,"e":0.05},{"d":"2025-07-12","v":11.35,"e":0.05},{"d":"2025-07-13","v":11.4,"e":0.05},{"d":"2025-07-14","v":13.35,"e":0.05},{"d":"2025-07-15","v":13.5,"e":0.05},{"d":"2025-07-16","v":11.45,"e":0.05},{"d":"2025-07-17","v":11.3,"e":0.05},{"d":"2025-07-18","v":11.2,"e":0.05},{"d":"2025-07-19","v":11.4,"e":0.05},{"d":"2025-07-20","v":11.25,"e":0.05},{"d":"2025-07-21","v":11.45,"e":0.05},{"d":"2025-07-22","v":11.35,"e":0.05},{"d":"2025-07-23","v":11.25,"e":0.05},{"d":"2025-07-24","v":11.4,"e":0.05},{"d":"2025-07-25","v":11.2,"e":0.05},{"d":"2025-07-26","v":11.45,"e":0.05},{"d":"2025-07-27","v":11.35,"e":0.05},{"d":"2025-07-28","v":11.3,"e":0.05},{"d":"2025-07-29","v":11.45,"e":0.05},{"d":"2025-07-30","v":11.3,"e":0.05},{"d":"2025-07-31","v":11.35,"e":0.05},
{"d":"2025-08-01","v":11.4,"e":0.05},{"d":"2025-08-02","v":11.25,"e":0.05},{"d":"2025-08-03","v":11.4,"e":0.05},{"d":"2025-08-04","v":11.3,"e":0.05},{"d":"2025-08-05","v":11.25,"e":0.05},{"d":"2025-08-06","v":11.35,"e":0.05},{"d":"2025-08-07","v":11.4,"e":0.05},{"d":"2025-08-08","v":11.2,"e":0.05},{"d":"2025-08-09","v":11.45,"e":0.05},{"d":"2025-08-10","v":11.25,"e":0.05},{"d":"2025-08-11","v":11.4,"e":0.05},{"d":"2025-08-12","v":11.3,"e":0.05},{"d":"2025-08-13","v":11.4,"e":0.05},{"d":"2025-08-14","v":11.25,"e":0.05},{"d":"2025-08-15","v":13.6,"e":0.05},{"d":"2025-08-16","v":13.5,"e":0.05},{"d":"2025-08-17","v":11.3,"e":0.05},{"d":"2025-08-18","v":11.45,"e":0.05},{"d":"2025-08-19","v":11.3,"e":0.05},{"d":"2025-08-20","v":11.5,"e":0.05},{"d":"2025-08-21","v":11.35,"e":0.05},{"d":"2025-08-22","v":11.3,"e":0.05},{"d":"2025-08-23","v":11.5,"e":0.05},{"d":"2025-08-24","v":11.35,"e":0.05},{"d":"2025-08-25","v":11.55,"e":0.05},{"d":"2025-08-26","v":11.4,"e":0.05},{"d":"2025-08-27","v":11.3,"e":0.05},{"d":"2025-08-28","v":11.55,"e":0.05},{"d":"2025-08-29","v":11.4,"e":0.05},{"d":"2025-08-30","v":11.55,"e":0.05},{"d":"2025-08-31","v":11.35,"e":0.05},
{"d":"2025-09-01","v":11.5,"e":0.05},{"d":"2025-09-02","v":11.35,"e":0.05},{"d":"2025-09-03","v":11.6,"e":0.05},{"d":"2025-09-04","v":11.3,"e":0.05},{"d":"2025-09-05","v":13.4,"e":0.05},{"d":"2025-09-06","v":13.25,"e":0.05},{"d":"2025-09-07","v":13.55,"e":0.05},{"d":"2025-09-08","v":13.4,"e":0.05},{"d":"2025-09-09","v":13.6,"e":0.05},{"d":"2025-09-10","v":13.75,"e":0.05},{"d":"2025-09-11","v":13.5,"e":0.05},{"d":"2025-09-12","v":13.7,"e":0.05},{"d":"2025-09-13","v":13.45,"e":0.05},{"d":"2025-09-14","v":13.6,"e":0.05},{"d":"2025-09-15","v":13.7,"e":0.05},{"d":"2025-09-17","v":10.4,"e":0.05}
]},
"data": {"name": "main"},
"encoding": {
  "x": {"field": "d", "type": "temporal",
    "scale": {"type": "utc", "domain": [{"year": 2024, "month": "jun", "date": 22, "hours": 14, "utc": true}, {"year": 2025, "month": "oct", "date": 8, "hours": 6, "utc": true}]},
    "axis": {"values": [
      {"year": 2024, "month": "jul", "date": 14, "utc": true},
      {"year": 2024, "month": "sep", "date": 24, "utc": true},
      {"year": 2024, "month": "dec", "date": 5, "utc": true},
      {"year": 2025, "month": "feb", "date": 14, "utc": true},
      {"year": 2025, "month": "apr", "date": 27, "utc": true},
      {"year": 2025, "month": "jul", "date": 8, "utc": true},
      {"year": 2025, "month": "sep", "date": 17, "utc": true}],
      "format": "%b %-d %Y", "grid": true, "gridColor": "white", "gridWidth": 1.2,
      "tickSize": 5, "tickColor": "#000", "domain": false, "labelFontSize": 12, "labelColor": "#333",
      "labelPadding": 3, "title": null, "labelFlush": false, "labelOverlap": false}}
},
"layer": [
  {"mark": {"type": "errorbar", "ticks": {"size": 6}, "color": "#1f77b4", "opacity": 0.55, "thickness": 1},
   "encoding": {"y": {"field": "v", "type": "quantitative", "scale": {"domain": [8, 15], "nice": false, "zero": false}, "axis": null},
                "yError": {"field": "e"}}},
  {"mark": {"type": "line", "color": "#1f77b4", "strokeWidth": 1.3, "opacity": 0.75},
   "encoding": {"y": {"field": "v", "type": "quantitative", "scale": {"domain": [8, 15], "nice": false, "zero": false},
     "axis": {"orient": "left", "values": [8, 9, 10, 11, 12, 13, 14], "grid": true, "gridColor": "white", "gridWidth": 1.2,
       "tickSize": 5, "tickColor": "#000", "domain": false, "labelFontSize": 12, "labelColor": "#333", "labelPadding": 3,
       "title": "Duration of single invocation (ns)", "titleFontSize": 16, "titleFontWeight": "bold", "titleColor": "#000", "titlePadding": 12}}}},
  {"mark": {"type": "point", "filled": true, "size": 26, "opacity": 1},
   "encoding": {"y": {"field": "v", "type": "quantitative", "scale": {"domain": [8, 15], "nice": false, "zero": false},
     "axis": {"orient": "left", "values": [8, 8.2, 8.4, 8.6, 8.8, 9, 9.2, 9.4, 9.6, 9.8, 10, 10.2, 10.4, 10.6, 10.8, 11, 11.2, 11.4, 11.6, 11.8, 12, 12.2, 12.4, 12.6, 12.8, 13, 13.2, 13.4, 13.6, 13.8, 14, 14.2, 14.4, 14.6, 14.8],
       "grid": false, "labels": false, "domain": false, "tickSize": 3, "tickColor": "#000", "title": null}},
     "color": {"datum": "20250917.8", "type": "nominal",
       "scale": {"domain": ["20250917.8", "Moving Average", "Upper Std Dev", "Lower Std Dev"], "range": ["#1f77b4", "#2ca02c", "#d62728", "#9467bd"]},
       "legend": {"orient": "none", "legendX": 791, "legendY": 91, "title": null,
         "symbolType": "M-1,-0.09L1,-0.09L1,0.09L-1,0.09Z M-0.3,0A0.3,0.3,0,1,1,0.3,0A0.3,0.3,0,1,1,-0.3,0Z",
         "symbolSize": 256, "symbolStrokeWidth": 0, "symbolOpacity": 1, "labelFontSize": 12, "labelColor": "#222",
         "strokeColor": "#444", "fillColor": "white", "padding": 7, "rowPadding": 7, "labelOffset": 8}}}}
],
"resolve": {"axis": {"y": "independent"}},
"config": {
  "font": "Open Sans",
  "view": {"stroke": "#000", "strokeWidth": 1, "fill": "#E5ECF6"},
  "axis": {"labelFont": "Open Sans", "titleFont": "Open Sans"},
  "legend": {"labelFont": "Open Sans"}
}
}
